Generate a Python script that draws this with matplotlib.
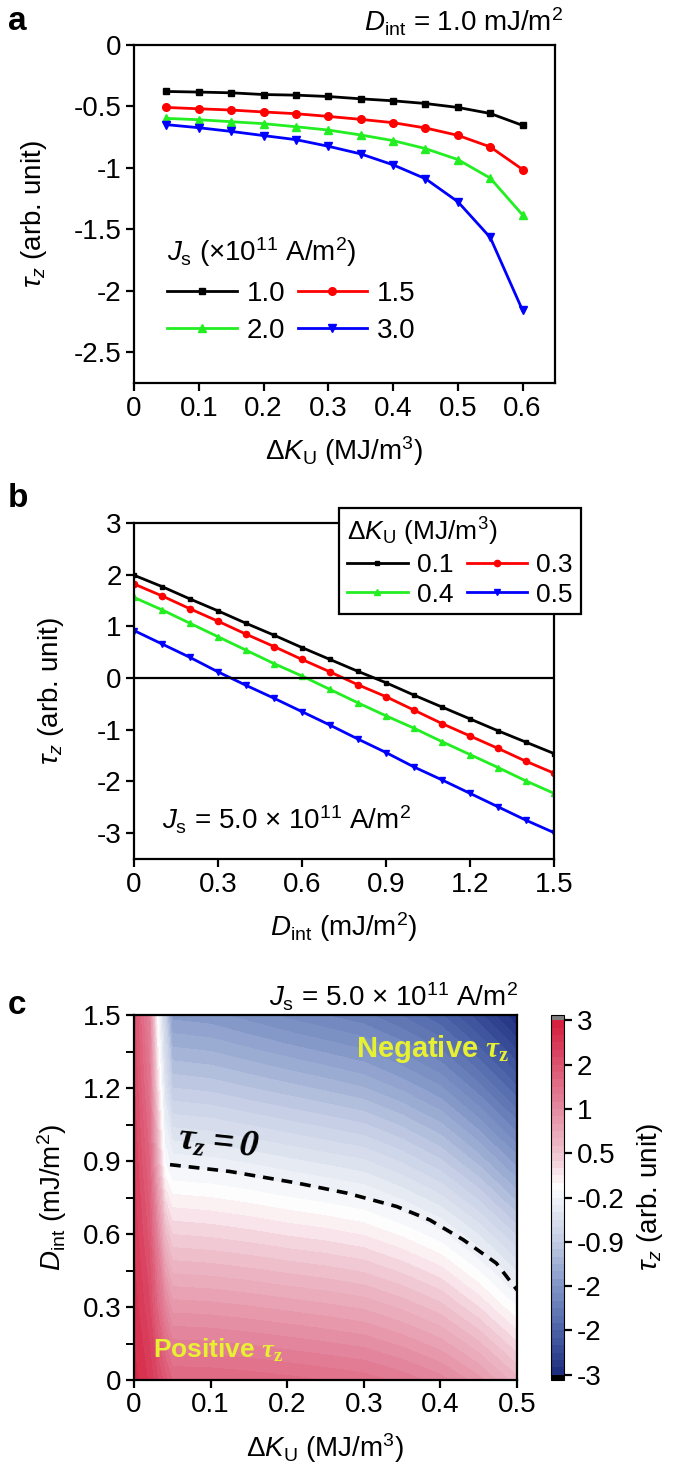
import numpy as np
import matplotlib
matplotlib.use('Agg')
import matplotlib.pyplot as plt
from matplotlib.colors import LinearSegmentedColormap
from matplotlib.ticker import FuncFormatter, MultipleLocator

# ---- panel a: tau_z vs dK_U at D_int = 1.0 mJ/m2 ----
dK_a = [0.05, 0.10, 0.15, 0.20, 0.25, 0.30, 0.35, 0.40, 0.45, 0.50, 0.55, 0.60]
tau_js10 = [-0.378, -0.383, -0.389, -0.403, -0.408, -0.419, -0.438, -0.454, -0.476, -0.508, -0.557, -0.654]
tau_js15 = [-0.508, -0.519, -0.529, -0.545, -0.559, -0.581, -0.605, -0.632, -0.675, -0.735, -0.829, -1.013]
tau_js20 = [-0.597, -0.608, -0.624, -0.640, -0.665, -0.692, -0.732, -0.778, -0.843, -0.932, -1.083, -1.383]
tau_js30 = [-0.648, -0.673, -0.703, -0.737, -0.770, -0.824, -0.886, -0.975, -1.088, -1.275, -1.566, -2.160]
js_labels = ['1.0', '1.5', '2.0', '3.0']

# ---- panel b: tau_z vs D_int at Js = 5.0e11 ----
D_b = [0.0, 0.1, 0.2, 0.3, 0.4, 0.5, 0.6, 0.7, 0.8, 0.9, 1.0, 1.1, 1.2, 1.3, 1.4, 1.5]
tau_k01 = [1.99, 1.77, 1.53, 1.30, 1.06, 0.83, 0.59, 0.36, 0.13, -0.09, -0.33, -0.56, -0.79, -1.02, -1.24, -1.46]
tau_k03 = [1.82, 1.59, 1.34, 1.10, 0.85, 0.61, 0.36, 0.12, -0.13, -0.36, -0.62, -0.88, -1.12, -1.36, -1.61, -1.84]
tau_k04 = [1.56, 1.32, 1.06, 0.80, 0.54, 0.28, 0.04, -0.22, -0.48, -0.73, -0.97, -1.23, -1.48, -1.73, -1.99, -2.23]
tau_k05 = [0.92, 0.66, 0.40, 0.12, -0.14, -0.39, -0.65, -0.91, -1.18, -1.44, -1.72, -1.97, -2.23, -2.49, -2.75, -2.99]
dk_labels = ['0.1', '0.3', '0.4', '0.5']

# ---- panel c: map of tau_z over (dK_U, D_int) ----
K_c = [0.0, 0.02, 0.03, 0.04, 0.05, 0.1, 0.15, 0.2, 0.25, 0.3, 0.35, 0.4, 0.45, 0.5]
D_c = [0.0, 0.3, 0.6, 0.9, 1.2, 1.5]
# one row per D_int value, one column per dK_U value
tau_c = [
    [2.8, 2.6, 2.4, 2.2, 2.00, 1.99, 1.96, 1.92, 1.87, 1.82, 1.71, 1.56, 1.30, 0.92],
    [2.7, 2.4, 2.0, 1.6, 1.32, 1.30, 1.26, 1.21, 1.16, 1.10, 0.97, 0.80, 0.50, 0.12],
    [2.6, 2.2, 1.6, 0.9, 0.62, 0.59, 0.54, 0.48, 0.43, 0.36, 0.22, 0.04, -0.26, -0.65],
    [2.5, 2.0, 1.1, 0.1, -0.06, -0.09, -0.15, -0.22, -0.29, -0.36, -0.52, -0.73, -1.05, -1.44],
    [2.4, 1.8, 0.6, -0.3, -0.75, -0.79, -0.87, -0.95, -1.03, -1.12, -1.28, -1.48, -1.82, -2.23],
    [2.3, 1.6, 0.2, -0.6, -1.42, -1.46, -1.56, -1.66, -1.75, -1.84, -2.01, -2.23, -2.58, -2.99],
]
zero_K = [0.047, 0.125, 0.212, 0.278, 0.343, 0.386, 0.43, 0.473, 0.50]
zero_D = [0.885, 0.857, 0.81, 0.768, 0.713, 0.658, 0.576, 0.48, 0.37]
cbar_labels = ['-3', '-2', '-2', '-0.9', '-0.2', '0.5', '1', '2', '3']

plt.rcParams['font.family'] = ['Liberation Sans', 'DejaVu Sans']
plt.rcParams['font.size'] = 20
plt.rcParams['mathtext.fontset'] = 'custom'
plt.rcParams['mathtext.rm'] = 'Liberation Sans'
plt.rcParams['mathtext.it'] = 'Liberation Sans:italic'
plt.rcParams['mathtext.bf'] = 'Liberation Serif:bold'
plt.rcParams['mathtext.bfit'] = 'Liberation Serif:italic:bold'
plt.rcParams['axes.unicode_minus'] = False
plt.rcParams['axes.linewidth'] = 1.6
for a in ['xtick', 'ytick']:
    plt.rcParams[a + '.major.width'] = 1.6
    plt.rcParams[a + '.minor.width'] = 1.4
    plt.rcParams[a + '.major.size'] = 6
    plt.rcParams[a + '.minor.size'] = 6
    plt.rcParams[a + '.direction'] = 'out'
    plt.rcParams[a + '.major.pad'] = 3

fmt = FuncFormatter(lambda v, p: '{:g}'.format(round(v, 3)))
W, H = 685, 1477
fig = plt.figure(figsize=(W / 100, H / 100), dpi=100)


def box(x0, y0, x1, y1):
    # pixel box (top-left origin) -> figure fraction
    return [x0 / W, 1 - y1 / H, (x1 - x0) / W, (y1 - y0) / H]


tau_label = r'$\tau_z$ (arb. unit)'
dk_label = r'$\Delta K_\mathrm{U}$ (MJ/m$^3$)'
styles = [('black', 's', 4.5), ('red', 'o', 5.5), ('#22ee22', '^', 6), ('blue', 'v', 6)]

# ---------------- panel a ----------------
ax1 = fig.add_axes(box(134, 45, 555, 383))
for tau, lab, (c, m, ms) in zip([tau_js10, tau_js15, tau_js20, tau_js30], js_labels, styles):
    ax1.plot(dK_a, tau, color=c, marker=m, ms=ms, lw=2, label=lab)
ax1.set_xlim(0, 0.65)
ax1.set_ylim(-2.75, 0)
ax1.set_xticks(np.arange(0, 0.61, 0.1))
ax1.set_yticks([0, -0.5, -1, -1.5, -2, -2.5])
ax1.xaxis.set_major_formatter(fmt)
ax1.yaxis.set_major_formatter(fmt)
ax1.set_xlabel(dk_label, labelpad=9)
ax1.set_ylabel(tau_label, labelpad=18)
h, l = ax1.get_legend_handles_labels()
ax1.legend([h[0], h[2], h[1], h[3]], [l[0], l[2], l[1], l[3]], ncol=2, frameon=False,
           title=r'$J_\mathrm{s}$ (×10$^{11}$ A/m$^2$)', alignment='left', fontsize=20,
           title_fontsize=20, loc='upper left', bbox_to_anchor=(0.02, 0.51),
           handlelength=2.5, handletextpad=0.35, columnspacing=0.45, labelspacing=0.4)
fig.text(563 / W, 1 - 22 / H, r'$D_\mathrm{int}$ = 1.0 mJ/m$^2$', ha='right', va='center', fontsize=20)
fig.text(8 / W, 1 - 22 / H, 'a', fontsize=24, fontweight='bold', va='center')

# ---------------- panel b ----------------
ax2 = fig.add_axes(box(134, 523, 554, 859))
for tau, lab, (c, m, ms) in zip([tau_k01, tau_k03, tau_k04, tau_k05], dk_labels, styles):
    ax2.plot(D_b, tau, color=c, marker=m, ms=ms - 1, lw=2, label=lab)
ax2.axhline(0, color='black', lw=1.6)
ax2.set_xlim(0, 1.5)
ax2.set_ylim(-3.5, 3)
ax2.set_xticks(np.arange(0, 1.51, 0.3))
ax2.set_yticks(np.arange(-3, 3.1, 1))
ax2.xaxis.set_major_formatter(fmt)
ax2.yaxis.set_major_formatter(fmt)
ax2.set_xlabel(r'$D_\mathrm{int}$ (mJ/m$^2$)', labelpad=9)
ax2.set_ylabel(tau_label, labelpad=22)
h, l = ax2.get_legend_handles_labels()
leg = ax2.legend([h[0], h[2], h[1], h[3]], [l[0], l[2], l[1], l[3]], ncol=2,
                 title=dk_label, alignment='left', fontsize=19, title_fontsize=19,
                 loc='upper left', bbox_to_anchor=(0.488, 1.045), fancybox=False,
                 framealpha=1, edgecolor='black', borderpad=0.3, borderaxespad=0,
                 handlelength=2.3, handletextpad=0.35, columnspacing=0.5, labelspacing=0.2)
leg.get_frame().set_linewidth(1.6)
ax2.text(0.067, 0.116, r'$J_\mathrm{s}$ = 5.0 × 10$^{11}$ A/m$^2$', transform=ax2.transAxes, va='center')
fig.text(8 / W, 1 - 498 / H, 'b', fontsize=24, fontweight='bold', va='center')

# ---------------- panel c ----------------
ax3 = fig.add_axes(box(134, 1015, 517, 1380))
cmap = LinearSegmentedColormap.from_list('rwb', [
    (0.0, '#1c2c7c'), (0.125, '#4a62a8'), (0.25, '#8095c6'), (0.375, '#c2cce3'),
    (0.5, '#f1f3f8'), (0.53, '#ffffff'), (0.625, '#efc3cf'), (0.75, '#e48ba1'),
    (0.875, '#dc5470'), (1.0, '#d41c3c')])
cmap.set_over('#808080')
cmap.set_under('black')
levels = np.linspace(-3, 3, 49)
cf = ax3.contourf(K_c, D_c, np.array(tau_c), levels=levels, cmap=cmap, extend='both')
ax3.plot(zero_K, zero_D, color='black', lw=2.6, ls=(0, (3, 2.2)))
ax3.set_xlim(0, 0.5)
ax3.set_ylim(0, 1.5)
ax3.set_xticks(np.arange(0, 0.51, 0.1))
ax3.set_yticks(np.arange(0, 1.51, 0.3))
ax3.yaxis.set_minor_locator(MultipleLocator(0.15))
ax3.xaxis.set_major_formatter(fmt)
ax3.yaxis.set_major_formatter(fmt)
ax3.set_xlabel(dk_label, labelpad=9)
ax3.set_ylabel(r'$D_\mathrm{int}$ (mJ/m$^2$)', labelpad=10)
ax3.text(0.49, 1.36, r'Negative $\mathbfit{\tau}_\mathbf{z}$', color='#e8f032', fontweight='bold',
         ha='right', va='center', fontsize=21)
ax3.text(0.025, 0.12, r'Positive $\mathbfit{\tau}_\mathbf{z}$', color='#e8f032', fontweight='bold',
         ha='left', va='center', fontsize=19)
ax3.text(0.055, 0.975, r'$\mathbfit{\tau_z = 0}$', ha='left', va='center', fontsize=27, rotation=-6)
fig.text(518 / W, 1 - 997 / H, r'$J_\mathrm{s}$ = 5.0 × 10$^{11}$ A/m$^2$', ha='right', va='center')
fig.text(8 / W, 1 - 1005 / H, 'c', fontsize=24, fontweight='bold', va='center')

cax = fig.add_axes(box(551, 1015, 564, 1380))
cb = fig.colorbar(cf, cax=cax, extend='both', extendrect=True, extendfrac=0.015)
cb.set_ticks(np.linspace(-3, 3, 9))
cb.set_ticklabels(cbar_labels)
cb.outline.set_linewidth(0.8)
cb.set_label(tau_label, labelpad=8)

plt.savefig('out.png', dpi=100)
